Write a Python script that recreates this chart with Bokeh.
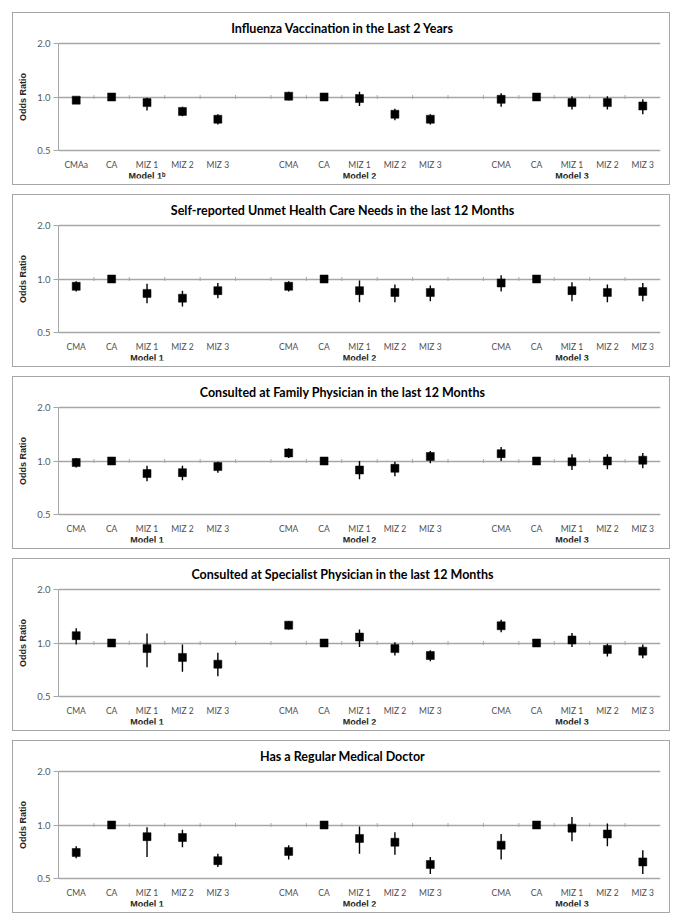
import math
from bokeh.plotting import figure
from bokeh.layouts import column
from bokeh.models import Range1d, FixedTicker, NumeralTickFormatter, LinearAxis
from bokeh.core.properties import value
from bokeh.embed import file_html
from bokeh.resources import INLINE

# ---------------- data ----------------
panel_titles = [
    "Influenza Vaccination in the Last 2 Years",
    "Self-reported Unmet Health Care Needs in the last 12 Months",
    "Consulted at Family Physician in the last 12 Months",
    "Consulted at Specialist Physician in the last 12 Months",
    "Has a Regular Medical Doctor",
]
categories = ["CMA", "CA", "MIZ 1", "MIZ 2", "MIZ 3"]
first_category_panel1 = "CMAa"
models = ["Model 1", "Model 2", "Model 3"]
first_model_panel1 = "Model 1\u1d47"
y_ticks = [0.5, 1.0, 2.0]

flu_or = [0.96, 1.00, 0.93, 0.83, 0.75, 1.01, 1.00, 0.98, 0.80, 0.75, 0.97, 1.00, 0.93, 0.93, 0.89]
flu_lo = [0.93, 1.00, 0.84, 0.78, 0.70, 0.96, 1.00, 0.89, 0.74, 0.70, 0.88, 1.00, 0.85, 0.85, 0.80]
flu_hi = [0.99, 1.00, 0.99, 0.88, 0.80, 1.07, 1.00, 1.07, 0.86, 0.80, 1.05, 1.00, 1.01, 1.01, 0.97]

unmet_or = [0.91, 1.00, 0.83, 0.78, 0.86, 0.91, 1.00, 0.86, 0.84, 0.84, 0.95, 1.00, 0.86, 0.84, 0.85]
unmet_lo = [0.85, 1.00, 0.73, 0.70, 0.78, 0.85, 1.00, 0.74, 0.74, 0.75, 0.85, 1.00, 0.75, 0.74, 0.75]
unmet_hi = [0.97, 1.00, 0.94, 0.86, 0.95, 0.97, 1.00, 0.98, 0.93, 0.92, 1.05, 1.00, 0.96, 0.93, 0.95]

family_or = [0.98, 1.00, 0.85, 0.86, 0.93, 1.11, 1.00, 0.89, 0.91, 1.06, 1.10, 1.00, 0.99, 1.00, 1.01]
family_lo = [0.92, 1.00, 0.77, 0.78, 0.86, 1.04, 1.00, 0.79, 0.82, 0.97, 1.00, 1.00, 0.89, 0.90, 0.91]
family_hi = [1.04, 1.00, 0.94, 0.94, 0.99, 1.18, 1.00, 1.00, 0.99, 1.14, 1.20, 1.00, 1.09, 1.09, 1.11]

specialist_or = [1.10, 1.00, 0.93, 0.83, 0.76, 1.26, 1.00, 1.08, 0.93, 0.85, 1.25, 1.00, 1.04, 0.92, 0.90]
specialist_lo = [0.98, 1.00, 0.73, 0.69, 0.65, 1.19, 1.00, 0.95, 0.85, 0.79, 1.15, 1.00, 0.95, 0.84, 0.82]
specialist_hi = [1.21, 1.00, 1.13, 0.98, 0.88, 1.33, 1.00, 1.19, 1.01, 0.91, 1.35, 1.00, 1.14, 0.99, 0.98]

doctor_or = [0.70, 1.00, 0.86, 0.85, 0.63, 0.71, 1.00, 0.84, 0.80, 0.60, 0.77, 1.00, 0.96, 0.89, 0.62]
doctor_lo = [0.65, 1.00, 0.66, 0.75, 0.58, 0.64, 1.00, 0.69, 0.68, 0.53, 0.64, 1.00, 0.81, 0.76, 0.53]
doctor_hi = [0.76, 1.00, 0.97, 0.94, 0.69, 0.77, 1.00, 0.98, 0.91, 0.66, 0.89, 1.00, 1.11, 1.02, 0.72]

panel_data = [
    (flu_or, flu_lo, flu_hi),
    (unmet_or, unmet_lo, unmet_hi),
    (family_or, family_lo, family_hi),
    (specialist_or, specialist_lo, specialist_hi),
    (doctor_or, doctor_lo, doctor_hi),
]

GREY = "#a6a6a6"
n_cat = len(categories)
slot = n_cat + 1  # one empty category between model groups

# category positions (integer slots, empty slot between models)
x_pos = [g * slot + k for g in range(len(models)) for k in range(n_cat)]
model_pos = [g * slot + n_cat // 2 for g in range(len(models))]
x_start = -0.5
x_end = len(models) * slot - 1 - 0.5
bounds = [b + 0.5 for b in range(int(x_start + 0.5), int(x_end - 0.5))]

# ---------------- layout (pixels, relative to each panel box) ----------------
FIG_W, FIG_H = 658, 173
BORDER_L, BORDER_R = 45, 11
FRAME_TOP, FRAME_BOT = 2, 165          # plotting frame
PX_2, PX_05 = 30, 137                  # where 2.0 and 0.5 sit
TITLE_PX = 15
px_per_log2 = (PX_05 - PX_2) / math.log2(y_ticks[-1] / y_ticks[0])
y_lo = y_ticks[0] * 2 ** (-(FRAME_BOT - PX_05) / px_per_log2)
y_hi = y_ticks[-1] * 2 ** ((PX_2 - FRAME_TOP) / px_per_log2)
y_title = y_ticks[-1] * 2 ** ((PX_2 - TITLE_PX) / px_per_log2)
frame_w = FIG_W - BORDER_L - BORDER_R
x_title = x_start + (FIG_W / 2 - BORDER_L) / frame_w * (x_end - x_start)


def make_panel(idx, title, vals, lo, hi):
    cat_labels = []
    for g in range(len(models)):
        for k, c in enumerate(categories):
            if idx == 0 and g == 0 and k == 0:
                cat_labels.append(first_category_panel1)
            else:
                cat_labels.append(c)
    mod_labels = [first_model_panel1 if (idx == 0 and g == 0) else m
                  for g, m in enumerate(models)]

    p = figure(x_range=Range1d(x_start, x_end), y_range=Range1d(y_lo, y_hi),
               y_axis_type="log", width=FIG_W, height=FIG_H, output_backend="svg",
               toolbar_location=None, min_border_left=BORDER_L, min_border_right=BORDER_R,
               min_border_top=FRAME_TOP, min_border_bottom=FIG_H - FRAME_BOT)
    p.styles = {"border": "1.5px solid " + GREY}
    p.outline_line_color = None
    p.background_fill_color = "white"
    p.border_fill_color = "white"

    # chart title, centred on the whole box
    p.text(x=[x_title], y=[y_title], text=[title], text_align="center",
           text_baseline="middle", text_font=value("Lato"), text_font_style="bold",
           text_font_size="12.5px", text_color="black")

    # y axis
    ya = p.yaxis[0]
    ya.bounds = (y_ticks[0], y_ticks[-1])
    ya.ticker = FixedTicker(ticks=y_ticks, minor_ticks=[])
    ya.formatter = NumeralTickFormatter(format="0.0")
    ya.axis_line_color = GREY
    ya.major_tick_line_color = GREY
    ya.major_tick_out = 5
    ya.major_tick_in = 0
    ya.minor_tick_line_color = None
    ya.major_label_text_font = "Lato"
    ya.major_label_text_font_size = "9.5px"
    ya.major_label_text_color = "#595959"
    ya.major_label_standoff = 3
    ya.axis_label = "Odds Ratio"
    ya.axis_label_text_font = "Liberation Sans"
    ya.axis_label_text_font_style = "bold"
    ya.axis_label_text_font_size = "9px"
    ya.axis_label_text_color = "#262626"
    ya.axis_label_standoff = 6

    p.ygrid.ticker = FixedTicker(ticks=y_ticks, minor_ticks=[])
    p.ygrid.grid_line_color = GREY
    p.ygrid.grid_line_width = 1.3
    p.xgrid.grid_line_color = None

    # category labels axis, fixed under the 0.5 line
    xa = p.xaxis[0]
    xa.fixed_location = y_ticks[0]
    xa.ticker = FixedTicker(ticks=x_pos, minor_ticks=[])
    xa.major_label_overrides = {x: lab for x, lab in zip(x_pos, cat_labels)}
    xa.axis_line_color = None
    xa.major_tick_line_color = None
    xa.minor_tick_line_color = None
    xa.major_tick_out = 0
    xa.major_label_text_font = "Lato"
    xa.major_label_text_font_size = "8.5px"
    xa.major_label_text_color = "#4d4d4d"
    xa.major_label_standoff = 9

    # model labels axis
    ma = LinearAxis(ticker=FixedTicker(ticks=model_pos, minor_ticks=[]),
                    fixed_location=y_ticks[0])
    ma.major_label_overrides = {x: lab for x, lab in zip(model_pos, mod_labels)}
    ma.axis_line_color = None
    ma.major_tick_line_color = None
    ma.minor_tick_line_color = None
    ma.major_tick_out = 0
    ma.major_tick_in = 0
    ma.major_label_standoff = 20
    ma.major_label_text_font = "Liberation Sans"
    ma.major_label_text_font_style = "bold"
    ma.major_label_text_font_size = "9px"
    ma.major_label_text_color = "#262626"
    p.add_layout(ma, "below")

    # tick marks crossing the 1.0 line between categories
    p.segment(x0=bounds, y0=[0.975] * len(bounds), x1=bounds, y1=[1.025] * len(bounds),
              line_color=GREY, line_width=1)

    # error bars + points
    p.segment(x0=x_pos, y0=lo, x1=x_pos, y1=hi, line_color="black", line_width=1.4)
    p.scatter(x=x_pos, y=vals, marker="square", size=8, fill_color="black",
              line_color="black", line_width=0.5)
    return p


figs = [make_panel(i, t, *d) for i, (t, d) in enumerate(zip(panel_titles, panel_data))]

layout = column(*figs, spacing=9, margin=(12, 0, 0, 12))
open("out.html", "w").write(file_html(layout, INLINE))
